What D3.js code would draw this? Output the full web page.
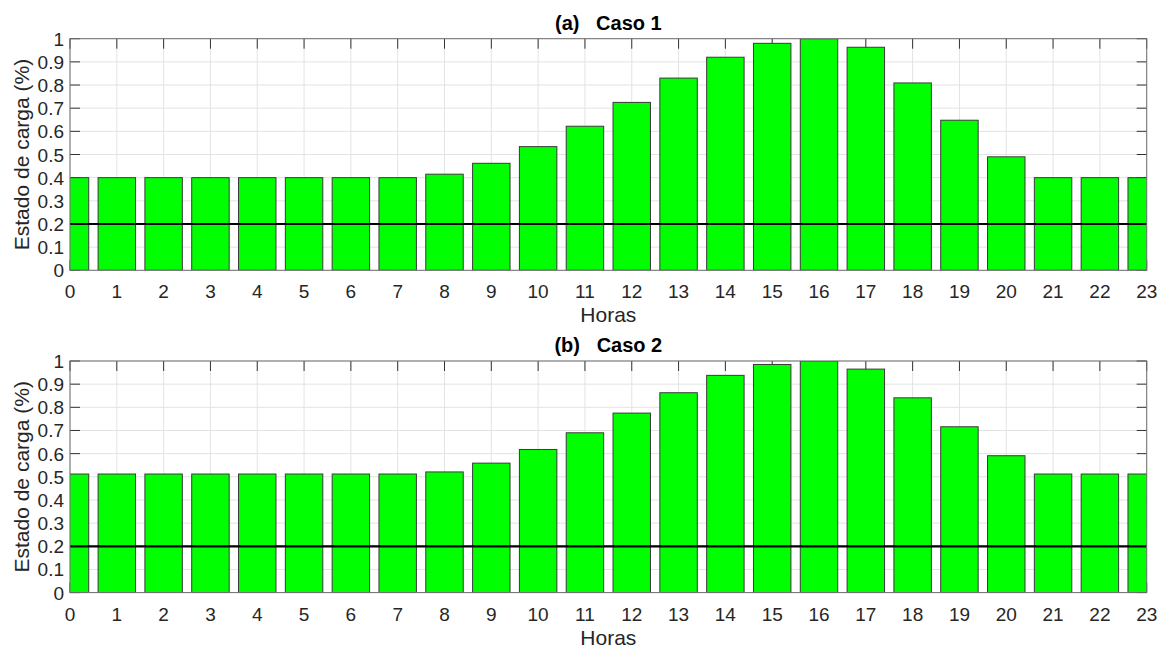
<!DOCTYPE html>
<html>
<head>
<meta charset="utf-8">
<script src="https://cdn.jsdelivr.net/npm/d3@7"></script>
<style>
  body { margin: 0; background: #fff; }
  svg { display: block; font-family: "Liberation Sans", Arial, sans-serif; }
</style>
</head>
<body>
<svg id="chart" width="1159" height="648"></svg>
<script>
// data
var horas = d3.range(0, 24);
var caso1 = [0.40, 0.40, 0.40, 0.40, 0.40, 0.40, 0.40, 0.40, 0.415, 0.462, 0.534, 0.622,
             0.725, 0.830, 0.920, 0.980, 1.00, 0.963, 0.809, 0.648, 0.490, 0.40, 0.40, 0.40];
var caso2 = [0.512, 0.512, 0.512, 0.512, 0.512, 0.512, 0.512, 0.512, 0.521, 0.559, 0.618, 0.690,
             0.775, 0.863, 0.938, 0.985, 1.00, 0.965, 0.841, 0.716, 0.591, 0.512, 0.512, 0.512];
var limite = 0.2;
var yTicks = d3.range(0, 11).map(function (i) { return i / 10; });
var titulos = ["(a)   Caso 1", "(b)   Caso 2"];

var svg = d3.select("#chart");

// axes positions
var left = 70, right = 1146.7, axH = 231.6;
var tops = [38.7, 361];
var barWidth = 0.8;

var x = d3.scaleLinear().domain([0, 23]).range([left, right]);

function panel(i, values) {
    var top = tops[i];
    var y = d3.scaleLinear().domain([0, 1]).range([top + axH, top]);
    var g = svg.append("g");

    var clipId = "clip" + i;
    svg.append("clipPath").attr("id", clipId)
        .append("rect")
        .attr("x", left).attr("y", top)
        .attr("width", right - left).attr("height", axH);

    // grid
    g.selectAll(".gx").data(horas).enter().append("line")
        .attr("x1", function (d) { return x(d); }).attr("x2", function (d) { return x(d); })
        .attr("y1", top).attr("y2", top + axH)
        .attr("stroke", "#e3e3e3").attr("stroke-width", 1);
    g.selectAll(".gy").data(yTicks).enter().append("line")
        .attr("x1", left).attr("x2", right)
        .attr("y1", function (d) { return y(d); }).attr("y2", function (d) { return y(d); })
        .attr("stroke", "#e3e3e3").attr("stroke-width", 1);

    // tick marks (inside, all four sides)
    var tl = 10;
    g.selectAll(".tt").data(horas).enter().append("line")
        .attr("x1", function (d) { return x(d); }).attr("x2", function (d) { return x(d); })
        .attr("y1", top).attr("y2", top + tl)
        .attr("stroke", "#333").attr("stroke-width", 1);
    g.selectAll(".tb").data(horas).enter().append("line")
        .attr("x1", function (d) { return x(d); }).attr("x2", function (d) { return x(d); })
        .attr("y1", top + axH).attr("y2", top + axH - tl)
        .attr("stroke", "#333").attr("stroke-width", 1);
    g.selectAll(".tl").data(yTicks).enter().append("line")
        .attr("x1", left).attr("x2", left + tl)
        .attr("y1", function (d) { return y(d); }).attr("y2", function (d) { return y(d); })
        .attr("stroke", "#333").attr("stroke-width", 1);
    g.selectAll(".tr").data(yTicks).enter().append("line")
        .attr("x1", right - tl).attr("x2", right)
        .attr("y1", function (d) { return y(d); }).attr("y2", function (d) { return y(d); })
        .attr("stroke", "#333").attr("stroke-width", 1);

    // bars
    g.append("g").attr("clip-path", "url(#" + clipId + ")")
        .selectAll("rect").data(values).enter().append("rect")
        .attr("x", function (d, j) { return x(horas[j] - barWidth / 2); })
        .attr("width", x(barWidth) - x(0))
        .attr("y", function (d) { return y(d); })
        .attr("height", function (d) { return y(0) - y(d); })
        .attr("fill", "#00ff00")
        .attr("stroke", "#3a3a3a")
        .attr("stroke-width", 1);

    // threshold line
    g.append("line")
        .attr("x1", left).attr("x2", right)
        .attr("y1", y(limite)).attr("y2", y(limite))
        .attr("stroke", "#000").attr("stroke-width", 2.2);

    // box
    g.append("rect")
        .attr("x", left).attr("y", top)
        .attr("width", right - left).attr("height", axH)
        .attr("fill", "none").attr("stroke", "#6e6e6e").attr("stroke-width", 1);

    // tick labels
    g.selectAll(".lx").data(horas).enter().append("text")
        .attr("x", function (d) { return x(d); })
        .attr("y", top + axH + 28)
        .attr("text-anchor", "middle")
        .attr("font-size", 19).attr("fill", "#262626")
        .text(function (d) { return d; });
    g.selectAll(".ly").data(yTicks).enter().append("text")
        .attr("x", left - 6)
        .attr("y", function (d) { return y(d) + 7; })
        .attr("text-anchor", "end")
        .attr("font-size", 19).attr("fill", "#262626")
        .text(function (d) { return d3.format("~g")(d); });

    // labels
    g.append("text")
        .attr("x", (left + right) / 2).attr("y", top + axH + 52)
        .attr("text-anchor", "middle")
        .attr("font-size", 21).attr("fill", "#262626")
        .text("Horas");
    g.append("text")
        .attr("transform", "translate(29," + (top + axH / 2) + ") rotate(-90)")
        .attr("text-anchor", "middle")
        .attr("font-size", 21).attr("fill", "#262626")
        .text("Estado de carga (%)");
    g.append("text")
        .attr("x", (left + right) / 2).attr("y", top - 9)
        .attr("text-anchor", "middle")
        .attr("font-size", 20).attr("font-weight", "bold").attr("fill", "#000")
        .attr("xml:space", "preserve")
        .style("white-space", "pre")
        .text(titulos[i]);
}

panel(0, caso1);
panel(1, caso2);
</script>
</body>
</html>
